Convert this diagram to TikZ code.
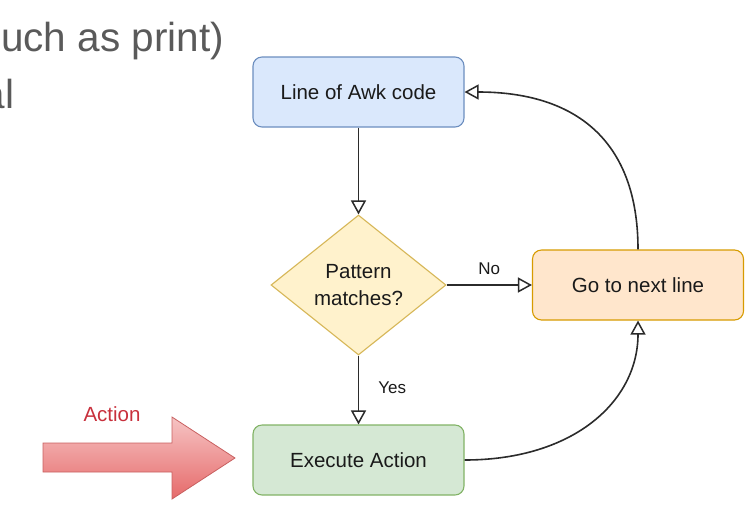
\documentclass[tikz,border=0pt]{standalone}
\usepackage{fontspec}
\setmainfont{Liberation Sans}
\usetikzlibrary{shapes.geometric,arrows.meta}
\definecolor{txt}{HTML}{1A1A1A}
\definecolor{edgec}{HTML}{2B2B2B}
\definecolor{bluef}{HTML}{DAE8FC}\definecolor{blued}{HTML}{6C8EBF}
\definecolor{yelf}{HTML}{FFF2CC}\definecolor{yeld}{HTML}{D6B656}
\definecolor{orf}{HTML}{FFE6CC}\definecolor{ord}{HTML}{D79B00}
\definecolor{grf}{HTML}{D5E8D4}\definecolor{grd}{HTML}{82B366}
\definecolor{redl}{HTML}{F6C4C4}\definecolor{redd}{HTML}{E66A6A}\definecolor{redb}{HTML}{C86060}
\definecolor{redt}{HTML}{C8303C}
\definecolor{grayt}{HTML}{5A5A5A}
\tikzset{
  box/.style={draw, rounded corners=9pt, line width=1.1pt, minimum width=211pt, minimum height=70pt, inner sep=0pt, text=txt, font=\fontsize{20.5}{24}\selectfont},
  dia/.style={draw, diamond, aspect=1.25, minimum width=175pt, minimum height=140pt, inner sep=0pt, line width=1.1pt, text=txt, align=center, font=\fontsize{20.5}{27}\selectfont},
  edge/.style={draw=edgec, line width=1.6pt, -{Triangle[length=14pt,width=15pt,fill=white,line width=1.5pt]}},
  lbl/.style={text=txt, font=\fontsize{17}{20}\selectfont, inner sep=0pt},
}
\begin{document}
\begin{tikzpicture}[x=1pt,y=-1pt]
\useasboundingbox (0,0) rectangle (751,507);
\clip (0,0) rectangle (751,507);
\node[anchor=base west, inner sep=0pt, text=grayt, font=\fontsize{40.5}{48}\selectfont] (t1) at (1,51) {uch as print)};
\node[anchor=base west, inner sep=0pt, text=grayt, font=\fontsize{40.5}{48}\selectfont] (t2) at (-17.5,108) {al};
\node[box, fill=bluef, draw=blued] (top) at (358.5,92) {Line of Awk code};
\node[dia, fill=yelf, draw=yeld] (dia) at (358.5,285) {Pattern\\matches?};
\node[box, fill=orf, draw=ord] (go) at (638,285) {Go to next line};
\node[box, fill=grf, draw=grd] (exec) at (358.5,460) {Execute Action};
\draw[edge] (top.south) -- (dia.north);
\draw[edge] (dia.east) -- node[lbl, above, yshift=10pt] (no) {No} (go.west);
\draw[edge] (dia.south) -- node[lbl, right, xshift=19pt, yshift=2pt] (yes) {Yes} (exec.north);
\draw[edge] (exec.east) .. controls +(110,0) and +(0,80) .. (go.south);
\draw[edge] (go.north) .. controls +(0,-110) and +(110,0) .. (top.east);
\path[draw=redb, line width=0.8pt, top color=redl, bottom color=redd]
  (43,443) -- (172,443) -- (172,417) -- (235,458) -- (172,499) -- (172,472) -- (43,472) -- cycle;
\node[text=redt, font=\fontsize{20.5}{24}\selectfont, inner sep=0pt] (act) at (112,414) {Action};
\end{tikzpicture}
\end{document}
